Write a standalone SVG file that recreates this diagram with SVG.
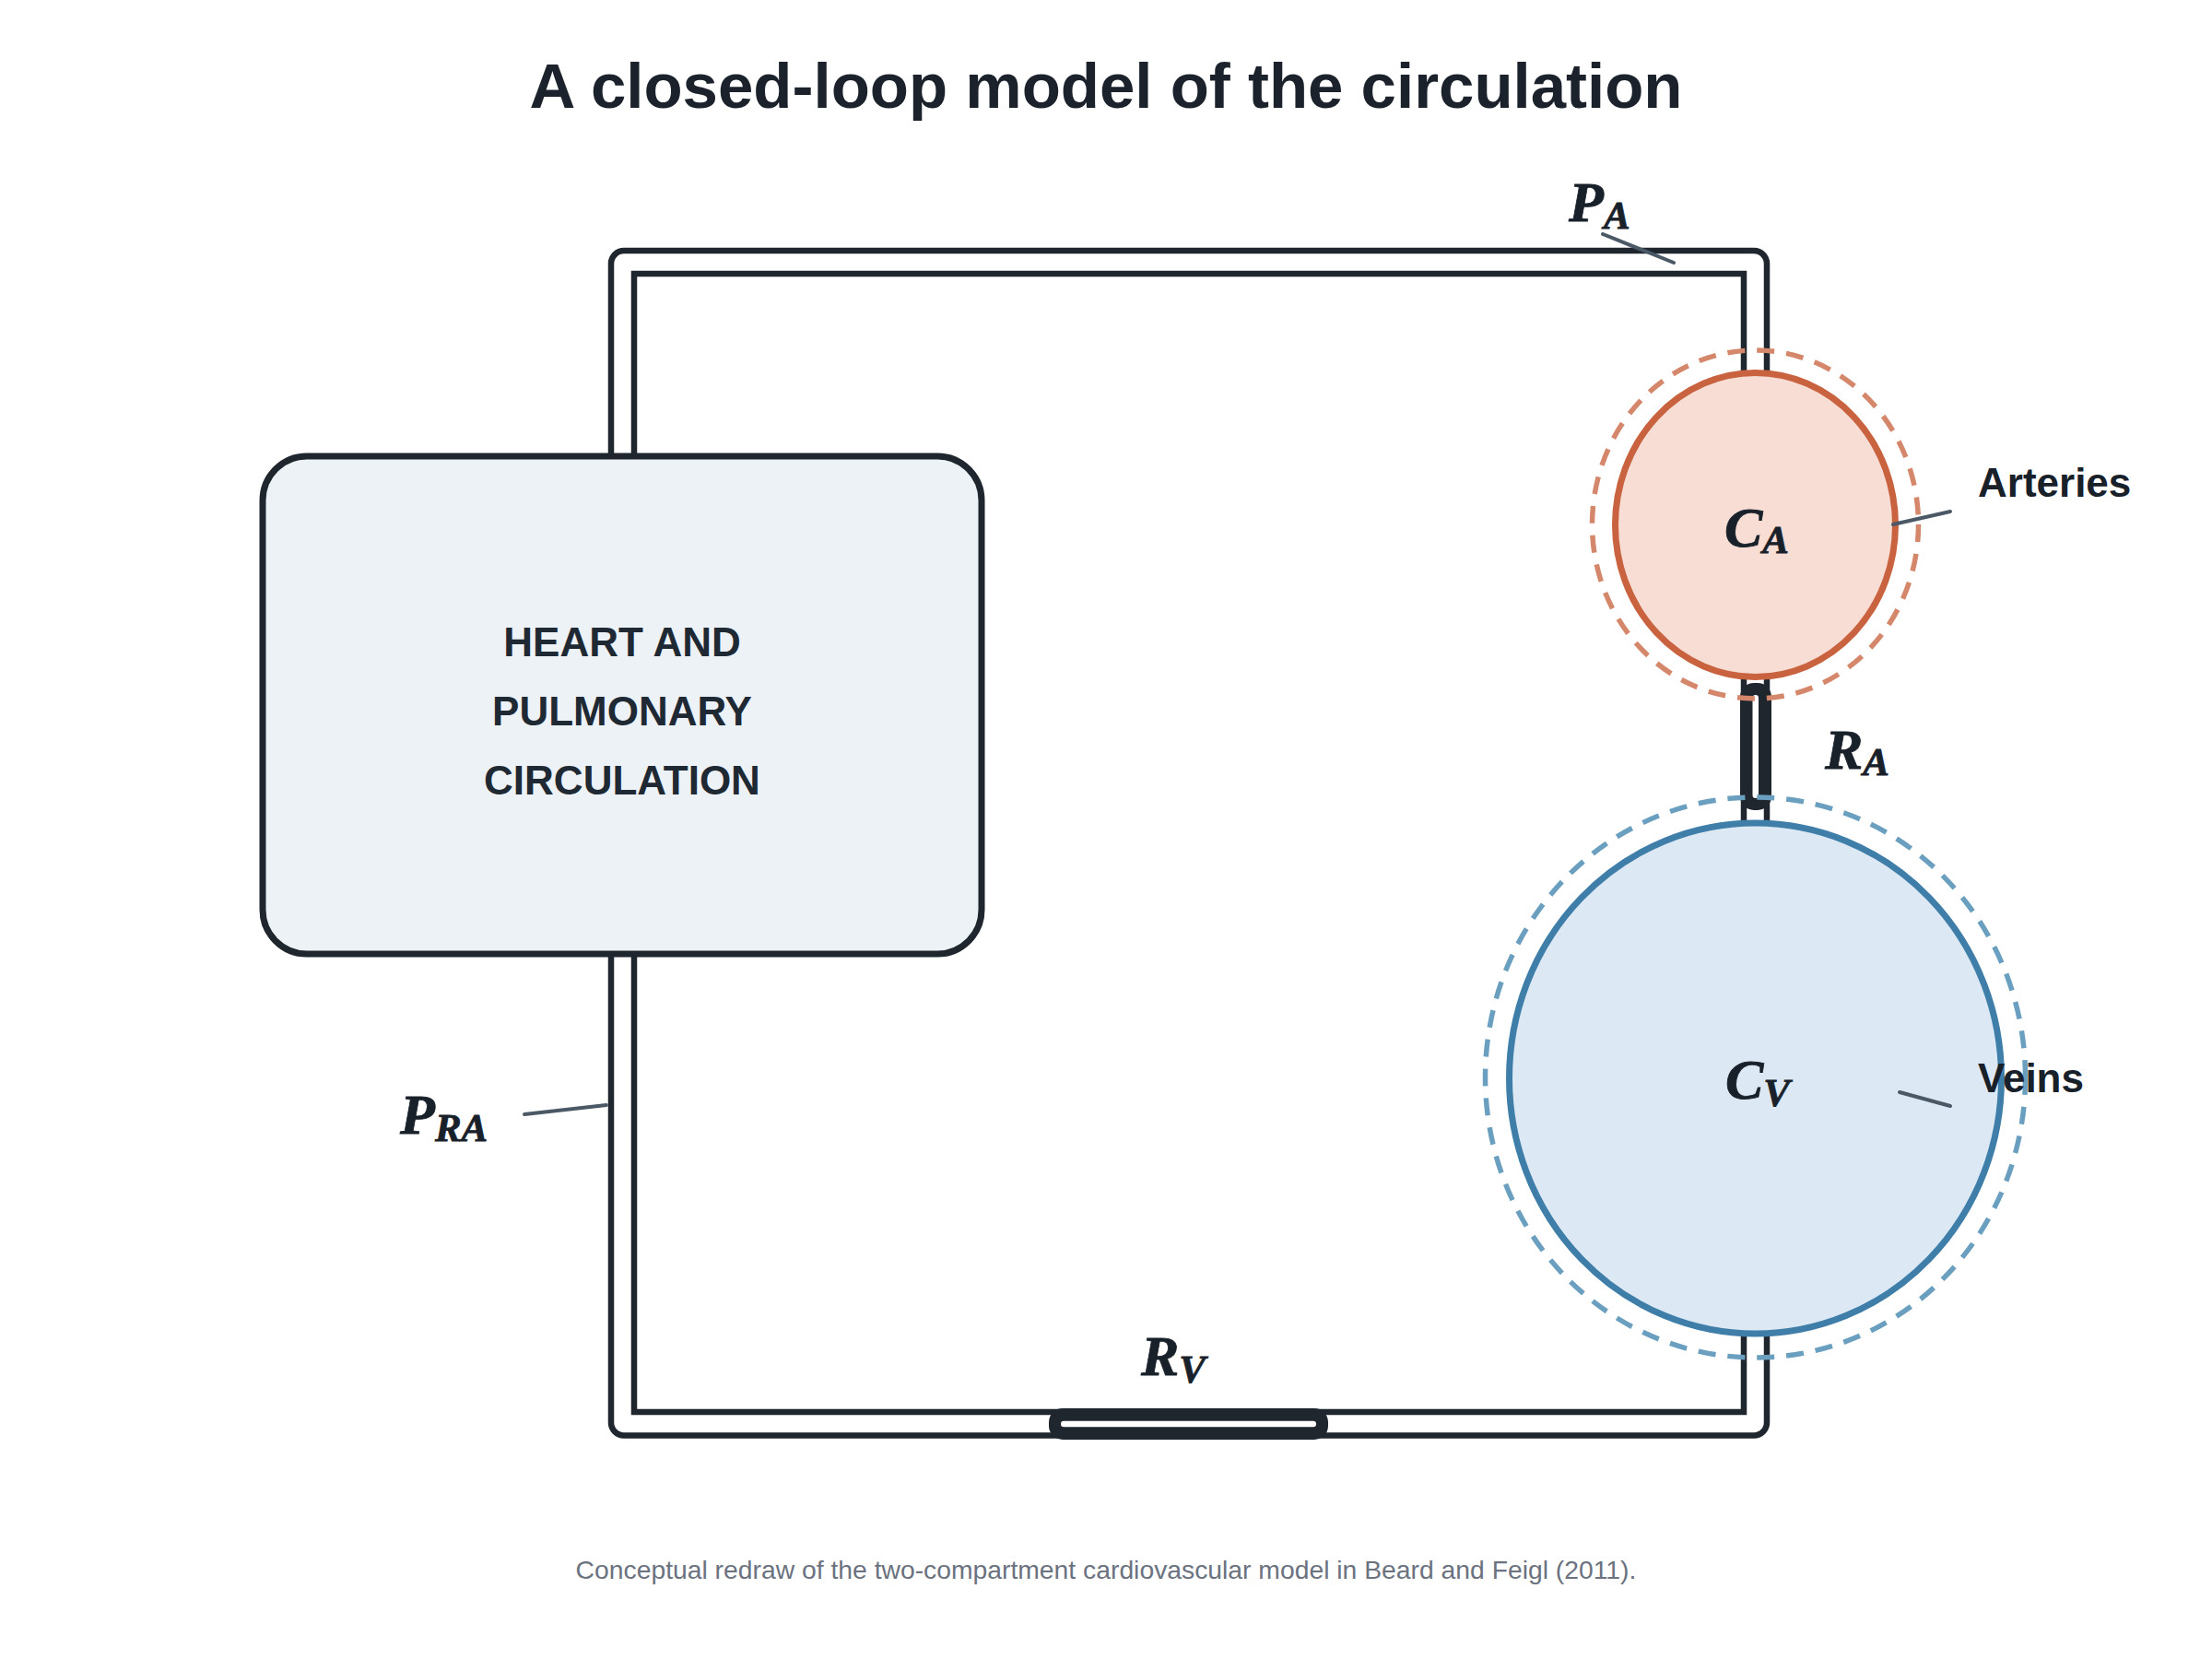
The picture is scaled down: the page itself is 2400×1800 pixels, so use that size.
<svg xmlns="http://www.w3.org/2000/svg" width="2400" height="1800" viewBox="0 0 2400 1800">
<defs>
<style>
.pipe{fill:none;stroke:#1f262e;stroke-width:6.5}
.res{fill:#1f262e}
.slit{fill:#ffffff}
.lead{stroke:#4b5866;stroke-width:4;stroke-linecap:round;fill:none}
.math{font-family:"Liberation Serif","Times New Roman",serif;font-weight:bold;font-style:italic;font-size:62px;fill:#18202a;stroke:#18202a;stroke-width:0.8}
.sub{font-size:43px}
.lbl{font-family:"Liberation Sans",Arial,sans-serif;font-weight:bold;font-size:44px;fill:#18202a}
.title{font-family:"Liberation Sans",Arial,sans-serif;font-weight:bold;font-size:69px;fill:#1b222c}
.foot{font-family:"Liberation Sans",Arial,sans-serif;font-size:28.3px;fill:#6b7280}
.box{fill:#edf2f6;stroke:#1f262e;stroke-width:7}
.boxt{font-family:"Liberation Sans",Arial,sans-serif;font-weight:bold;font-size:44px;fill:#1f2933}
</style>
</defs>
<rect x="0" y="0" width="2400" height="1800" fill="#ffffff"/>
<text class="title" x="1200" y="117" text-anchor="middle">A closed-loop model of the circulation</text>

<g id="connectors">
<rect class="pipe" x="663" y="272" width="1254" height="1285.5" rx="14"/>
<rect class="pipe" x="688" y="297" width="1204" height="1235"/>
<g id="R_A_resistor">
<rect class="res" x="1888" y="741" width="34" height="138" rx="15"/>
<rect class="slit" x="1901.5" y="754" width="6.5" height="112" rx="3.25"/>
</g>
<g id="R_V_resistor">
<rect class="res" x="1138" y="1528" width="303" height="34" rx="15"/>
<rect class="slit" x="1151" y="1541.8" width="277" height="6.5" rx="3.25"/>
</g>
</g>

<g id="heart">
<rect class="box" x="285" y="495" width="780" height="540" rx="48"/>
<text class="boxt" x="675" y="712" text-anchor="middle">HEART AND</text>
<text class="boxt" x="675" y="787" text-anchor="middle">PULMONARY</text>
<text class="boxt" x="675" y="862" text-anchor="middle">CIRCULATION</text>
</g>

<g id="arteries">
<ellipse cx="1904.5" cy="569.5" rx="152" ry="165" fill="#f7ddd4" stroke="#c8623f" stroke-width="7"/>
<ellipse cx="1904.5" cy="569" rx="177" ry="189" fill="none" stroke="#d4876a" stroke-width="5.5" stroke-dasharray="19 13"/>
<text class="math" x="1906" y="593" text-anchor="middle">C<tspan class="sub" dy="7">A</tspan></text>
</g>

<g id="veins">
<ellipse cx="1904.5" cy="1170" rx="267" ry="277" fill="#dce9f4" stroke="#3f7ea8" stroke-width="7"/>
<ellipse cx="1904.5" cy="1169" rx="293" ry="304" fill="none" stroke="#6a9fc0" stroke-width="5.5" stroke-dasharray="19 13"/>
<text class="math" x="1907" y="1192" text-anchor="middle">C<tspan class="sub" dy="8">V</tspan></text>
</g>

<g id="labels">
<line class="lead" x1="1739" y1="254" x2="1816" y2="285"/>
<text class="math" x="1702" y="240">P<tspan class="sub" dy="8">A</tspan></text>
<line class="lead" x1="2054" y1="569" x2="2116" y2="555"/>
<text class="lbl" x="2146" y="539">Arteries</text>
<line class="lead" x1="2061" y1="1185" x2="2116" y2="1200"/>
<text class="lbl" x="2146" y="1185">Veins</text>
<text class="math" x="1980" y="834">R<tspan class="sub" dy="7">A</tspan></text>
<text class="math" x="1238" y="1492">R<tspan class="sub" dy="8">V</tspan></text>
<line class="lead" x1="569" y1="1209" x2="658" y2="1199"/>
<text class="math" x="434" y="1230">P<tspan class="sub" dy="8">RA</tspan></text>
</g>

<text class="foot" x="1200" y="1713" text-anchor="middle">Conceptual redraw of the two-compartment cardiovascular model in Beard and Feigl (2011).</text>
</svg>
